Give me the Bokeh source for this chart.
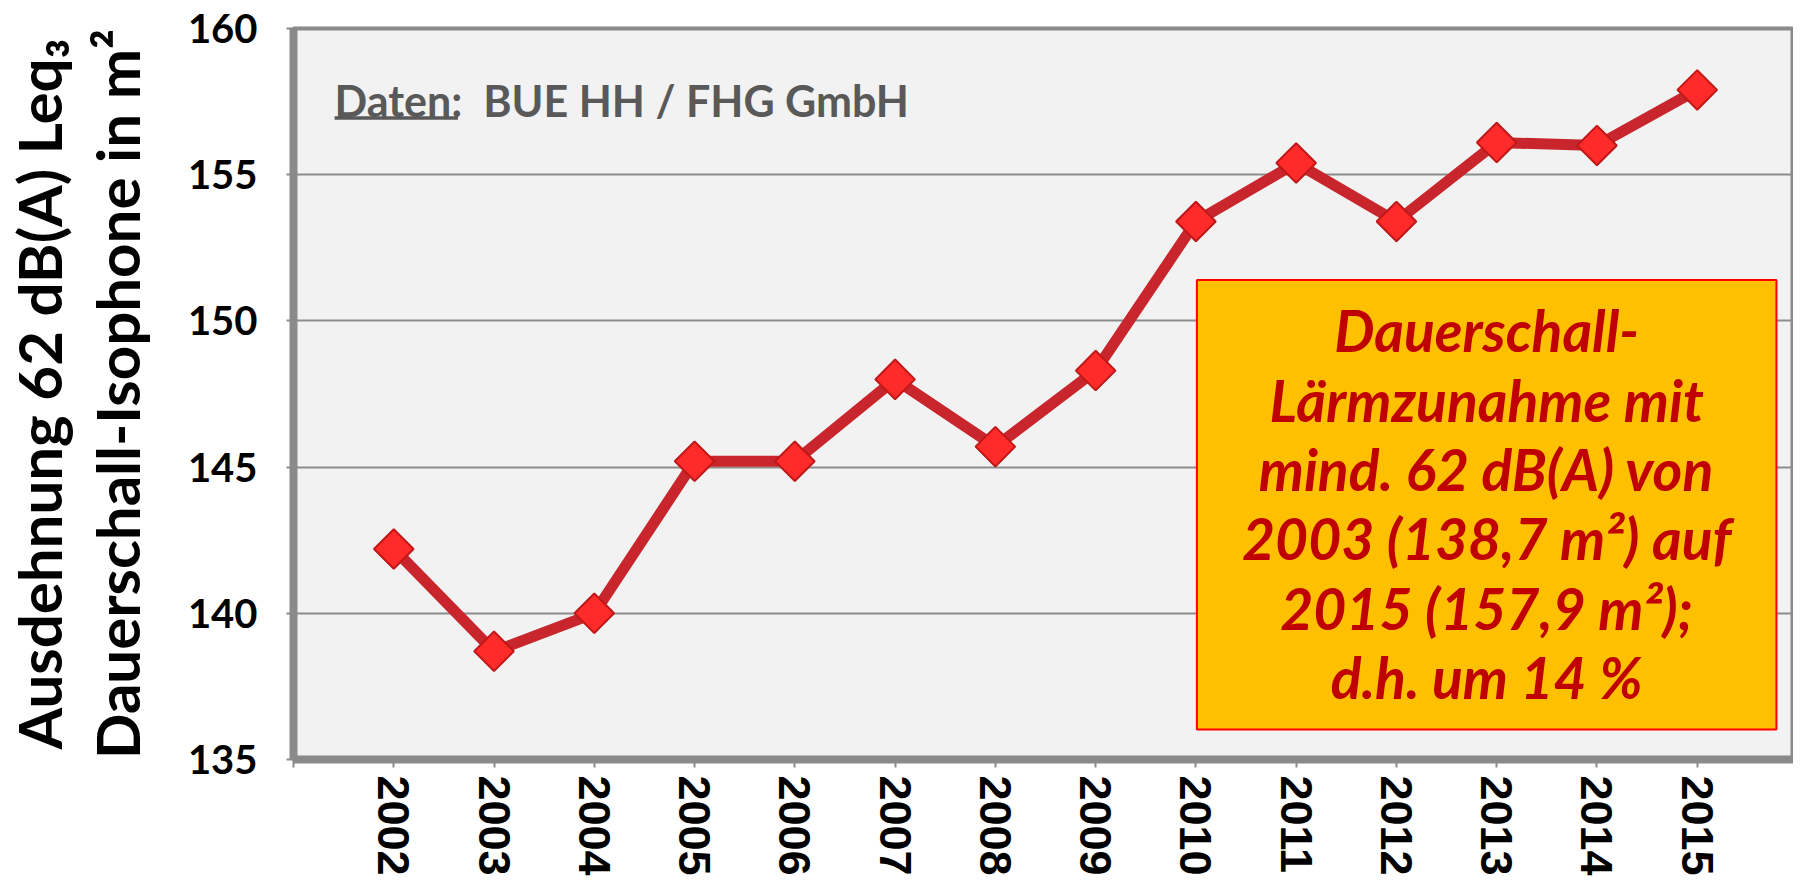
import numpy as np
from bokeh.plotting import figure
from bokeh.models import Range1d, FixedTicker, BoxAnnotation, Label
from bokeh.embed import file_html
from bokeh.resources import INLINE

# ---- data ----
years = [2002, 2003, 2004, 2005, 2006, 2007, 2008, 2009, 2010, 2011, 2012, 2013, 2014, 2015]
values = [142.2, 138.7, 140.0, 145.2, 145.2, 148.0, 145.7, 148.3, 153.4, 155.4, 153.4, 156.1, 156.0, 157.9]
x_ticks = list(range(2001, 2017))
y_ticks = [135, 140, 145, 150, 155, 160]
year_labels = [str(y) for y in years]

y_title = "Ausdehnung 62 dB(A) Leq\u2083\nDauerschall-Isophone in m\u00b2"
source_text = "Daten:\u00a0 BUE HH / FHG GmbH"
box_text = ("Dauerschall-\nL\u00e4rmzunahme mit\nmind. 62 dB(A) von\n"
            "2003 (138,7 m\u00b2) auf\n2015 (157,9 m\u00b2);\nd.h. um 14 %")

p = figure(width=1793, height=878, output_backend="svg", toolbar_location=None,
           x_range=Range1d(2001, 2015.96), y_range=Range1d(135, 160),
           min_border_left=288, min_border_top=28, min_border_right=0, min_border_bottom=110)

p.background_fill_color = "#f2f2f2"
p.border_fill_color = "white"
p.outline_line_color = "#8a8a8a"
p.outline_line_width = 4

# grid
p.xgrid.grid_line_color = None
p.ygrid.ticker = FixedTicker(ticks=y_ticks)
p.ygrid.grid_line_color = "#8c8c8c"
p.ygrid.grid_line_width = 2

# x axis
p.xaxis.ticker = FixedTicker(ticks=x_ticks)
overrides = {t: "" for t in x_ticks}
for y, lab in zip(years, year_labels):
    overrides[y] = lab
p.xaxis.major_label_overrides = overrides
p.xaxis.major_label_orientation = "vertical"
p.xaxis.major_label_text_font = "Liberation Sans"
p.xaxis.major_label_text_font_style = "bold"
p.xaxis.major_label_text_font_size = "45px"
p.xaxis.major_label_text_color = "black"
p.xaxis.major_label_standoff = 8
p.xaxis.major_tick_out = 8
p.xaxis.major_tick_in = 0
p.xaxis.minor_tick_line_color = None
p.xaxis.major_tick_line_color = "#8a8a8a"
p.xaxis.major_tick_line_width = 2
p.xaxis.axis_line_color = "#8a8a8a"
p.xaxis.axis_line_width = 8

# y axis
p.yaxis.ticker = FixedTicker(ticks=y_ticks)
p.yaxis.major_label_text_font = "Lato"
p.yaxis.major_label_text_font_style = "bold"
p.yaxis.major_label_text_font_size = "40px"
p.yaxis.major_label_text_color = "black"
p.yaxis.major_label_standoff = 29
p.yaxis.major_tick_out = 7
p.yaxis.major_tick_in = 0
p.yaxis.minor_tick_line_color = None
p.yaxis.major_tick_line_color = "#8a8a8a"
p.yaxis.major_tick_line_width = 2
p.yaxis.axis_line_color = "#8a8a8a"
p.yaxis.axis_line_width = 8
p.yaxis.axis_label = y_title
p.yaxis.axis_label_text_font = "Lato"
p.yaxis.axis_label_text_font_style = "bold"
p.yaxis.axis_label_text_font_size = "60px"
p.yaxis.axis_label_text_color = "black"
p.yaxis.axis_label_text_line_height = 1.08
p.yaxis.axis_label_standoff = 32

# data line + markers
p.line(years, values, line_width=11, line_color="#c8262c", line_join="round")
p.scatter(years, values, marker="square", angle=np.pi / 4, size=28,
          fill_color="#ff2a2a", line_color="#c01818", line_width=2)

# source note
p.add_layout(Label(x=2001.41, y=157.55, text=source_text, text_font="Lato",
                   text_font_style="bold", text_font_size="43px", text_color="#595959",
                   text_baseline="middle", text_align="left"))
p.add_layout(BoxAnnotation(left=2001.41, right=2002.64, top=157.0, bottom=156.88,
                           fill_color="#595959", fill_alpha=1, line_color=None))

# annotation box
p.add_layout(BoxAnnotation(left=2010.01, right=2015.79, top=151.4, bottom=136.03,
                           fill_color="#FFC000", fill_alpha=1,
                           line_color="#FF0000", line_width=2, line_alpha=1))
p.add_layout(Label(x=2012.9, y=143.75, text=box_text, text_font="Lato",
                   text_font_style="bold italic", text_font_size="57px",
                   text_color="#C00000", text_align="center", text_baseline="middle",
                   text_line_height=1.02))

open("out.html", "w").write(file_html(p, INLINE))
